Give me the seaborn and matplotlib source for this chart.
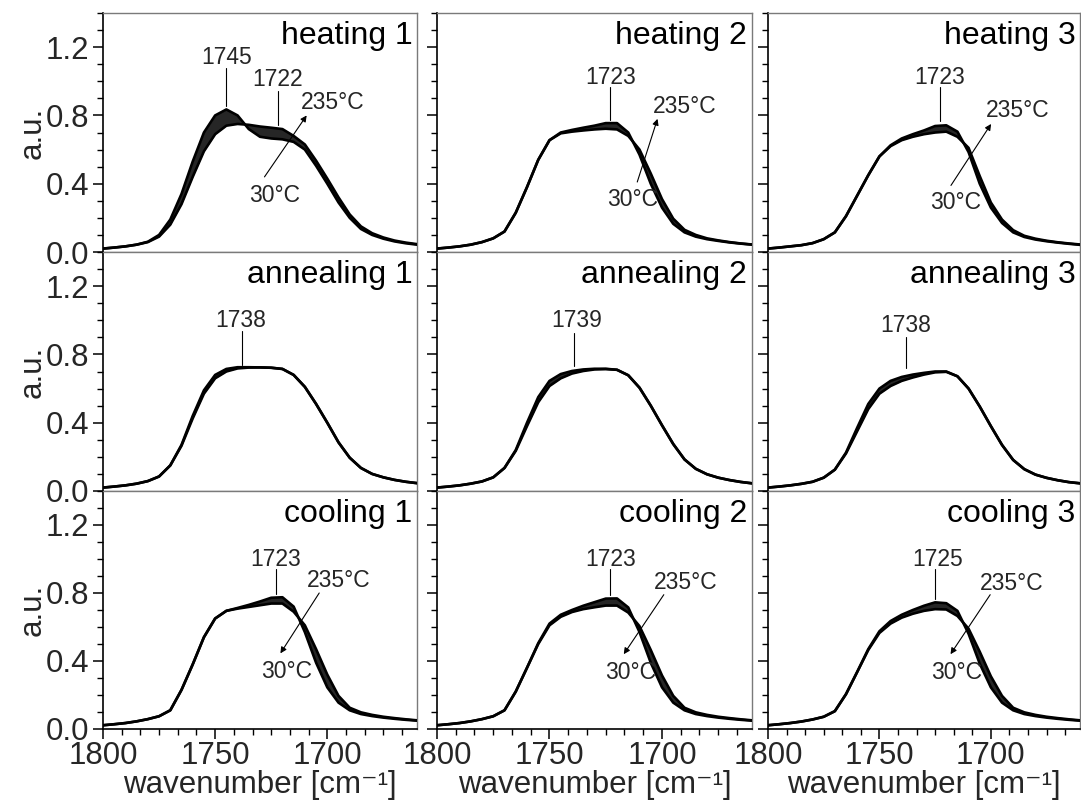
import matplotlib
matplotlib.use("Agg")
import matplotlib.pyplot as plt
import seaborn as sns
from matplotlib.ticker import MultipleLocator, AutoMinorLocator

sns.set_theme(style="ticks")
plt.rcParams["font.family"] = ["Liberation Sans", "DejaVu Sans"]

# ---------------- data ----------------
wavenumber = [1800, 1795, 1790, 1785, 1780, 1775, 1770, 1765, 1760, 1755,
              1750, 1745, 1740, 1735, 1730, 1725, 1720, 1715, 1710, 1705,
              1700, 1695, 1690, 1685, 1680, 1675, 1670, 1665, 1660]

heating1_30C = [.020, .026, .033, .043, .060, .100, .190, .340, .530, .700, .800, .835, .800, .720, .675, .665, .660, .645, .600, .505, .400, .290, .200, .135, .100, .078, .062, .051, .043]
heating1_235C = [.020, .026, .033, .043, .058, .090, .160, .280, .440, .590, .690, .740, .750, .745, .735, .728, .720, .680, .630, .535, .430, .320, .220, .150, .110, .085, .067, .055, .046]

heating2_30C = [.020, .026, .033, .043, .058, .080, .120, .230, .380, .540, .655, .695, .705, .712, .718, .722, .718, .680, .600, .460, .310, .195, .130, .100, .080, .068, .058, .050, .044]
heating2_235C = [.020, .026, .033, .043, .058, .080, .120, .230, .380, .540, .655, .700, .715, .728, .740, .755, .755, .700, .570, .400, .260, .165, .115, .090, .075, .065, .056, .049, .043]

heating3_30C = [.020, .026, .033, .040, .052, .075, .115, .210, .330, .450, .560, .620, .655, .675, .690, .700, .705, .675, .610, .445, .290, .190, .128, .095, .078, .066, .057, .050, .044]
heating3_235C = [.020, .026, .033, .040, .052, .075, .115, .210, .330, .450, .560, .625, .665, .690, .712, .738, .742, .705, .585, .400, .260, .170, .115, .088, .073, .063, .055, .048, .042]

annealing1_start = [.020, .026, .033, .043, .058, .085, .150, .270, .440, .590, .680, .715, .725, .725, .724, .722, .715, .680, .610, .510, .400, .285, .195, .135, .100, .080, .065, .054, .046]
annealing1_end = [.020, .026, .033, .043, .058, .085, .150, .265, .425, .570, .660, .700, .718, .723, .724, .722, .715, .680, .610, .510, .400, .285, .195, .135, .100, .080, .065, .054, .046]

annealing2_start = [.020, .026, .033, .043, .056, .080, .135, .240, .400, .550, .645, .685, .703, .712, .716, .716, .710, .678, .605, .500, .385, .275, .185, .130, .098, .078, .064, .053, .045]
annealing2_end = [.020, .026, .033, .043, .056, .080, .135, .235, .380, .520, .615, .660, .688, .703, .712, .714, .710, .678, .605, .500, .385, .275, .185, .130, .098, .078, .064, .053, .045]

annealing3_start = [.020, .026, .033, .042, .054, .078, .125, .225, .370, .510, .600, .645, .668, .682, .692, .700, .700, .672, .600, .495, .380, .270, .182, .128, .096, .077, .063, .052, .045]
annealing3_end = [.020, .026, .033, .042, .054, .078, .125, .220, .350, .480, .570, .615, .645, .665, .682, .695, .698, .672, .600, .495, .380, .270, .182, .128, .096, .077, .063, .052, .045]

cooling1_235C = [.022, .028, .035, .045, .058, .075, .110, .230, .380, .540, .650, .695, .708, .718, .728, .738, .738, .690, .610, .470, .320, .195, .125, .098, .083, .072, .064, .057, .051]
cooling1_30C = [.022, .028, .035, .045, .058, .075, .110, .230, .380, .540, .650, .695, .712, .730, .750, .772, .775, .720, .570, .390, .245, .155, .110, .088, .076, .067, .060, .054, .049]

cooling2_235C = [.022, .028, .035, .045, .058, .075, .110, .220, .360, .500, .610, .660, .688, .705, .716, .726, .726, .685, .605, .465, .315, .195, .125, .098, .083, .072, .064, .057, .051]
cooling2_30C = [.022, .028, .035, .045, .058, .075, .110, .220, .360, .505, .620, .672, .700, .725, .746, .767, .768, .715, .570, .390, .245, .155, .110, .088, .076, .067, .060, .054, .049]

cooling3_235C = [.022, .028, .035, .044, .056, .072, .105, .205, .335, .465, .565, .620, .655, .678, .695, .705, .703, .665, .590, .455, .310, .195, .125, .098, .083, .072, .064, .057, .051]
cooling3_30C = [.022, .028, .035, .044, .056, .072, .105, .205, .335, .470, .575, .635, .672, .700, .725, .745, .740, .695, .560, .385, .245, .155, .110, .088, .076, .067, .060, .054, .049]

panel_titles = ["heating 1", "heating 2", "heating 3",
                "annealing 1", "annealing 2", "annealing 3",
                "cooling 1", "cooling 2", "cooling 3"]

panel_curves = [(heating1_30C, heating1_235C), (heating2_30C, heating2_235C), (heating3_30C, heating3_235C),
                (annealing1_start, annealing1_end), (annealing2_start, annealing2_end), (annealing3_start, annealing3_end),
                (cooling1_235C, cooling1_30C), (cooling2_235C, cooling2_30C), (cooling3_235C, cooling3_30C)]

# peak labels: (text, wavenumber)
peak_labels = [[("1745", 1745), ("1722", 1722)], [("1723", 1723)], [("1723", 1723)],
               [("1738", 1738)], [("1739", 1739)], [("1738", 1738)],
               [("1723", 1723)], [("1723", 1723)], [("1725", 1725)]]
temp_low = "30°C"
temp_high = "235°C"
x_label = "wavenumber [cm\u207b\u00b9]"
y_label = "a.u."

# ---------------- layout ----------------
W, H = 1081, 802
fig = plt.figure(figsize=(W / 100, H / 100), dpi=100)
col_px = [(103, 314), (437, 315), (768, 312)]
row_px = [(13, 239), (252, 239), (491, 238)]

# label placement (text x, text y, line top, line bottom) per peak label
peak_layout = [[(1745, 1.14, 1.08, 0.855), (1722, 1.01, 0.945, 0.745)],
               [(1723, 1.025, 0.965, 0.775)], [(1723, 1.025, 0.965, 0.77)],
               [(1738.5, 1.0, 0.94, 0.74)], [(1738, 1.0, 0.925, 0.73)], [(1738, 0.97, 0.90, 0.72)],
               [(1723, 1.0, 0.94, 0.795)], [(1723, 1.0, 0.94, 0.79)], [(1724, 1.0, 0.94, 0.765)]]
# (high label xy, low label xy, arrow start, arrow end) for heating/cooling panels
temp_layout = {0: ((1697.8, 0.873), (1723.6, 0.33), (1728, 0.44), (1709.2, 0.80)),
               1: ((1690, 0.855), (1713, 0.31), (1711, 0.41), (1702, 0.78)),
               2: ((1688, 0.826), (1716, 0.29), (1717.9, 0.39), (1699.9, 0.75)),
               6: ((1694.7, 0.873), (1718.2, 0.34), (1703.6, 0.80), (1720.9, 0.445)),
               7: ((1689.3, 0.86), (1713.8, 0.335), (1699.2, 0.79), (1717, 0.44)),
               8: ((1690.7, 0.855), (1715.2, 0.33), (1700.3, 0.79), (1718.1, 0.44))}

TICK_FS = 22.5
LABEL_FS = 22.5
TITLE_FS = 23
ANN_FS = 16.5
GRAY = "#7a7a7a"

for i in range(9):
    r, c = divmod(i, 3)
    lx, w = col_px[c]
    ty, h = row_px[r]
    ax = fig.add_axes([lx / W, 1 - (ty + h) / H, w / W, h / H])
    ax.set_facecolor("white")
    ya, yb = panel_curves[i]
    ax.fill_between(wavenumber, ya, yb, color="#262626", lw=0, zorder=2)
    for yy in (ya, yb):
        sns.lineplot(x=wavenumber, y=yy, ax=ax, color="black", lw=1.9,
                     sort=False, estimator=None, zorder=3,
                     solid_joinstyle="round", solid_capstyle="round")

    ax.set_xlim(1800, 1660)
    ax.set_ylim(0, 1.4)
    ax.set_xlabel("")
    ax.set_ylabel("")
    ax.xaxis.set_major_locator(MultipleLocator(50))
    ax.xaxis.set_minor_locator(AutoMinorLocator(6))
    ax.yaxis.set_major_locator(MultipleLocator(0.4))
    ax.yaxis.set_minor_locator(MultipleLocator(0.1))
    ax.yaxis.set_major_formatter(matplotlib.ticker.FormatStrFormatter("%.1f"))
    ax.tick_params(axis="both", which="major", direction="out", length=7, width=1.1,
                   labelsize=TICK_FS, color="black", pad=3)
    ax.tick_params(axis="x", which="major", pad=1.5)
    ax.tick_params(axis="both", which="minor", direction="out", length=4, width=1.0, color="black")
    if c > 0:
        ax.tick_params(axis="y", which="both", labelleft=False)
    if r < 2:
        ax.tick_params(axis="x", which="both", bottom=False, labelbottom=False)

    for s in ["top", "right", "bottom", "left"]:
        ax.spines[s].set_visible(True)
        ax.spines[s].set_color(GRAY)
        ax.spines[s].set_linewidth(1.0)
    ax.spines["left"].set_color("black")
    ax.spines["left"].set_linewidth(1.2)
    if r == 2:
        ax.spines["bottom"].set_color("black")
        ax.spines["bottom"].set_linewidth(1.2)

    ax.text(0.985, 0.905, panel_titles[i], transform=ax.transAxes, ha="right",
            va="center", fontsize=TITLE_FS, color="black", zorder=5)

    for (txt, wn), (tx, tyv, l0, l1) in zip(peak_labels[i], peak_layout[i]):
        ax.text(tx, tyv, txt, ha="center", va="center", fontsize=ANN_FS, zorder=5)
        ax.plot([wn, wn], [l0, l1], color="black", lw=0.8, zorder=5)

    if i in temp_layout:
        hi, lo, a0, a1 = temp_layout[i]
        ax.text(hi[0], hi[1], temp_high, ha="center", va="center", fontsize=ANN_FS, zorder=5)
        ax.text(lo[0], lo[1], temp_low, ha="center", va="center", fontsize=ANN_FS, zorder=5)
        ax.annotate("", xy=a1, xytext=a0,
                    arrowprops=dict(arrowstyle="-|>", lw=0.8, color="black",
                                    mutation_scale=9, shrinkA=0, shrinkB=0), zorder=6)

    if c == 0:
        fig.text(33 / W, 1 - (ty + h / 2) / H, y_label, rotation=90, ha="center",
                 va="center", fontsize=TICK_FS)
    if r == 2:
        fig.text((lx + w / 2) / W, 2 / H, x_label, ha="center",
                 va="bottom", fontsize=LABEL_FS)

fig.savefig("out.png", dpi=100, facecolor="white")
